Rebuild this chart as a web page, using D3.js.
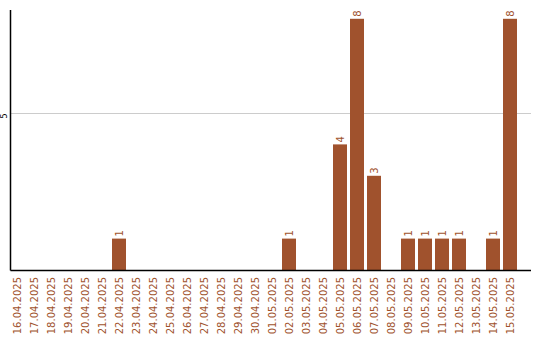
<!DOCTYPE html>
<html><head><meta charset="utf-8">
<script src="https://cdn.jsdelivr.net/npm/d3@7"></script>
<style>body{margin:0;background:#fff}</style></head>
<body><svg id="c" width="540" height="340"></svg>
<script>
const categories = ["16.04.2025","17.04.2025","18.04.2025","19.04.2025","20.04.2025","21.04.2025","22.04.2025","23.04.2025","24.04.2025","25.04.2025","26.04.2025","27.04.2025","28.04.2025","29.04.2025","30.04.2025","01.05.2025","02.05.2025","03.05.2025","04.05.2025","05.05.2025","06.05.2025","07.05.2025","08.05.2025","09.05.2025","10.05.2025","11.05.2025","12.05.2025","13.05.2025","14.05.2025","15.05.2025"];
const values = [0,0,0,0,0,0,1,0,0,0,0,0,0,0,0,0,1,0,0,4,8,3,0,1,1,1,1,0,1,8];
const yTicks = [5];

(function () {
const svg = d3.select("#c");
const color = "#a0522d";
const mLeft = 10.5, mBottom = 270, mTop = 10, mRight = 531;
const x = d3.scaleBand().domain(categories).range([10, 520]).padding(0);
const y = d3.scaleLinear().domain([0, 8.28]).range([mBottom, mTop]);
const bw = x.bandwidth() - 3;

svg.selectAll("line.grid").data(yTicks).enter().append("line")
  .attr("x1", mLeft).attr("x2", mRight)
  .attr("y1", d => Math.round(y(d)) + 0.5).attr("y2", d => Math.round(y(d)) + 0.5)
  .attr("stroke", "#cccccc").attr("stroke-width", 1);

const data = categories.map((c, i) => ({c, v: values[i]}));
const nz = data.filter(d => d.v > 0);
svg.selectAll("rect.bar").data(nz).enter().append("rect")
  .attr("x", d => x(d.c)).attr("width", bw)
  .attr("y", d => y(d.v)).attr("height", d => mBottom - y(d.v))
  .attr("fill", color);

svg.selectAll("text.val").data(nz).enter().append("text")
  .attr("transform", d => `translate(${x(d.c) + bw / 2 + 3.5},${y(d.v) - 2}) rotate(-90)`)
  .attr("text-anchor", "start")
  .attr("font-family", "DejaVu Sans").attr("font-size", 10)
  .attr("fill", color).text(d => d.v);

svg.append("line").attr("x1", mLeft).attr("x2", mLeft).attr("y1", mTop).attr("y2", mBottom + 0.5)
  .attr("stroke", "#000").attr("stroke-width", 1.5);
svg.append("line").attr("x1", mLeft).attr("x2", mRight).attr("y1", mBottom + 0.5).attr("y2", mBottom + 0.5)
  .attr("stroke", "#000").attr("stroke-width", 1.5);

svg.selectAll("text.yt").data(yTicks).enter().append("text")
  .attr("transform", d => `translate(6.5,${y(d) + 3}) rotate(-90)`)
  .attr("text-anchor", "middle")
  .attr("font-family", "DejaVu Sans").attr("font-size", 8)
  .attr("fill", "#000").text(d => d);

svg.selectAll("text.xt").data(categories).enter().append("text")
  .attr("transform", d => `translate(${x(d) + bw / 2 + 3.5},277) rotate(-90)`)
  .attr("text-anchor", "end")
  .attr("font-family", "DejaVu Sans").attr("font-size", 10)
  .attr("fill", color).text(d => d);
})();
</script></body></html>
